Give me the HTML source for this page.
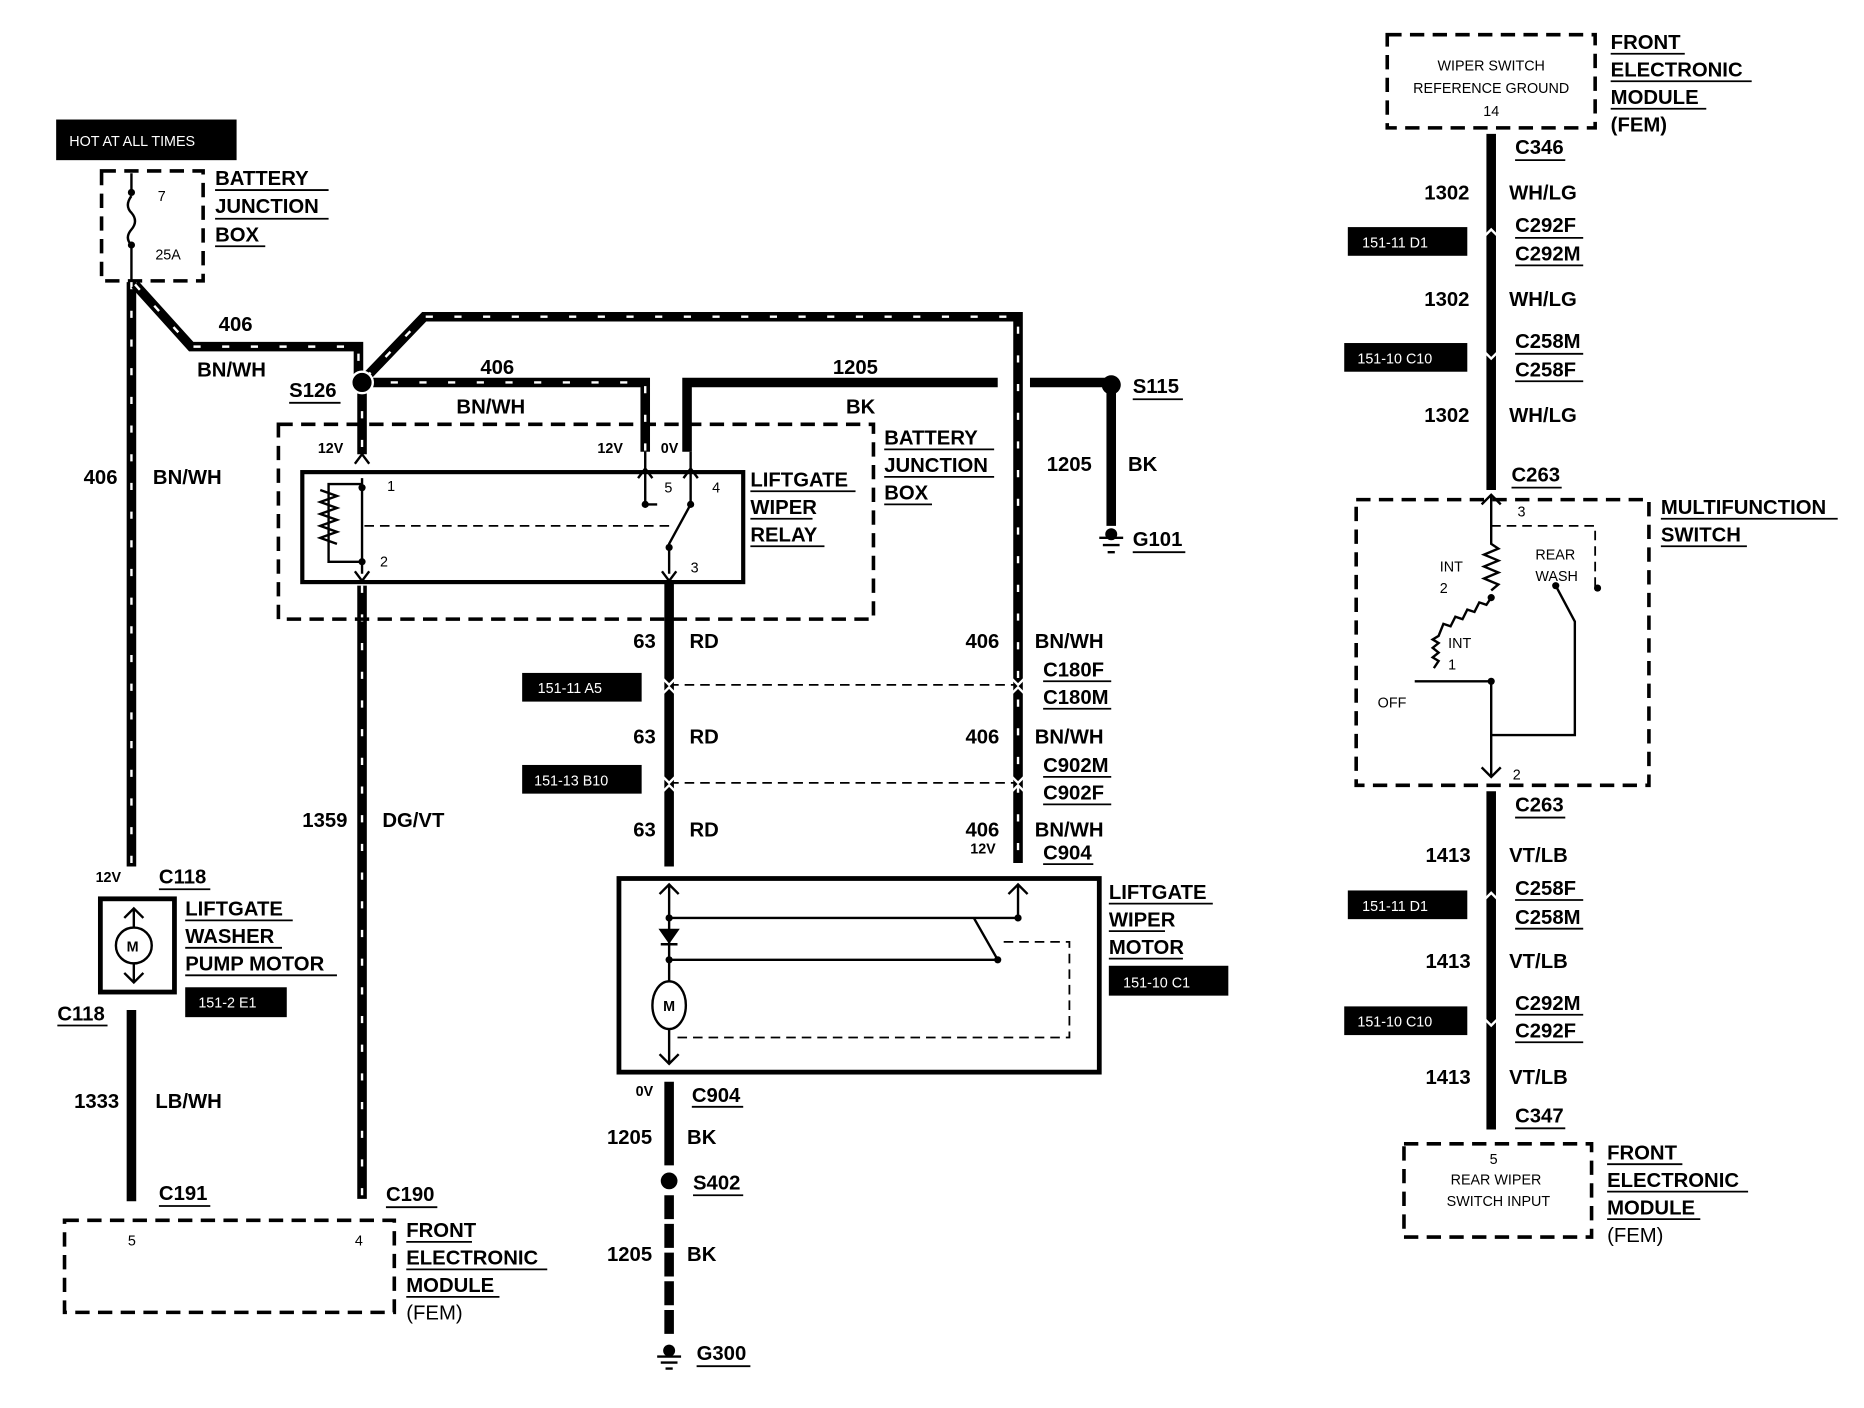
<!DOCTYPE html>
<html><head><meta charset="utf-8"><style>
html,body{margin:0;padding:0;background:#fff;}
svg{display:block}
text{font-family:"Liberation Sans",Arial,sans-serif;font-weight:bold;fill:#000;font-size:17px}
.s{font-size:12px;font-weight:normal}
.t{font-size:12px;font-weight:normal;fill:#fff}
.w{stroke:#000;stroke-width:8;fill:none}
.st{stroke:#fff;stroke-width:2;fill:none;stroke-dasharray:6 18}
.d{stroke:#000;stroke-width:3;fill:none;stroke-dasharray:12 7}
.dt{stroke:#000;stroke-width:1.5;fill:none;stroke-dasharray:8 5}
.l{stroke:#000;stroke-width:2;fill:none}
.u{stroke:#000;stroke-width:1.5}
</style></head><body>
<svg width="1864" height="1408" viewBox="0 0 1560 1178" preserveAspectRatio="none" xmlns="http://www.w3.org/2000/svg">
<!-- HOT box -->
<rect x="47" y="100" width="151" height="34" fill="#000"/>
<text x="58" y="122" class="t">HOT AT ALL TIMES</text>
<rect x="85" y="143" width="85" height="92" class="d"/>
<path d="M110 145 V160 M110 164 q-6 8 0 14 q6 7 0 14 q-6 7 0 13 M110 205 V235" class="l"/>
<circle cx="110" cy="161" r="3"/><circle cx="110" cy="205" r="3"/>
<text x="132" y="168" class="s">7</text><text x="130" y="217" class="s">25A</text>
<text x="180" y="155">BATTERY</text><text x="180" y="178">JUNCTION</text><text x="180" y="202">BOX</text>
<path d="M180 159H275M180 183H275M180 206H222" class="u"/>

<!-- striped wires -->
<g>
<path d="M110 236V725" class="w"/><path d="M110 236V725" class="st"/>
<path d="M113 238L160 290H300V318" class="w"/><path d="M113 238L160 290H300V318" class="st"/>
<path d="M306 316L355 265H852V722" class="w"/><path d="M306 316L355 265H852V722" class="st"/>
<path d="M303 320H540V378" class="w"/><path d="M303 320H540V378" class="st"/>
<path d="M303 320V380" class="w"/><path d="M303 320V380" class="st"/>
<path d="M303 490V1003" class="w"/><path d="M303 490V1003" class="st"/>
</g>
<circle cx="303" cy="320" r="9" fill="#000" stroke="#fff" stroke-width="2"/>
<text x="183" y="277">406</text><text x="165" y="315">BN/WH</text>
<text x="242" y="332">S126</text><path d="M242 337H285" class="u"/>
<text x="402" y="313">406</text><text x="382" y="346">BN/WH</text>
<text x="70" y="405">406</text><text x="128" y="405">BN/WH</text>
<text x="253" y="692">1359</text><text x="320" y="692">DG/VT</text>

<!-- BK wires -->
<path d="M575 378V320H835M862 320H930V440" class="w"/>
<circle cx="930" cy="322" r="8"/>
<text x="697" y="313">1205</text><text x="708" y="346">BK</text>
<text x="948" y="329">S115</text><path d="M948 334H990" class="u"/>
<text x="876" y="394">1205</text><text x="944" y="394">BK</text>
<path d="M920 450H940M923 456H937M927 462H933" class="l"/><circle cx="930" cy="447" r="5"/>
<text x="948" y="457">G101</text><path d="M948 462H992" class="u"/>

<!-- relay area -->
<rect x="233" y="355" width="498" height="163" class="d"/>
<text x="266" y="379" class="s" style="font-weight:bold">12V</text>
<text x="500" y="379" class="s" style="font-weight:bold">12V</text>
<text x="553" y="379" class="s" style="font-weight:bold">0V</text>
<rect x="253" y="395" width="369" height="92" fill="none" stroke="#000" stroke-width="3.5"/>
<path d="M303 400V480M297 388l6 -8 6 8M297 478l6 8 6-8" class="l"/>
<path d="M303 405H275V470H303M268 410 l14 5 -14 5 14 5 -14 5 14 5 -14 5 14 5 -14 5 14 5" class="l"/>
<circle cx="303" cy="408" r="3"/><circle cx="303" cy="470" r="3"/>
<text x="324" y="411" class="s">1</text><text x="318" y="474" class="s">2</text>
<path d="M305 440H560" class="dt"/>
<path d="M540 378V422M578 378V422L560 455V480M534 400l6 -8 6 8M572 400l6-8 6 8M554 478l6 8 6-8M540 422H550" class="l"/>
<circle cx="540" cy="422" r="3"/><circle cx="578" cy="422" r="3"/><circle cx="560" cy="458" r="3"/>
<text x="556" y="412" class="s">5</text><text x="596" y="412" class="s">4</text><text x="578" y="479" class="s">3</text>
<text x="628" y="407">LIFTGATE</text><text x="628" y="430">WIPER</text><text x="628" y="453">RELAY</text>
<path d="M628 411H716M628 434H680M628 457H690" class="u"/>
<text x="740" y="372">BATTERY</text><text x="740" y="395">JUNCTION</text><text x="740" y="418">BOX</text>
<path d="M740 376H832M740 399H832M740 422H780" class="u"/>

<!-- RD wire -->
<path d="M560 487V725" class="w"/>
<path d="M560 573H852M560 655H852" class="dt"/>
<path d="M552 565l8 8 8-8M552 583l8-8 8 8M552 647l8 8 8-8M552 665l8-8 8 8M844 565l8 8 8-8M844 583l8-8 8 8M844 647l8 8 8-8M844 665l8-8 8 8" stroke="#fff" stroke-width="2" fill="none"/>
<rect x="437" y="563" width="100" height="24"/><text x="450" y="580" class="t">151-11 A5</text>
<rect x="437" y="640" width="100" height="24"/><text x="447" y="657" class="t">151-13 B10</text>
<text x="530" y="542">63</text><text x="577" y="542">RD</text>
<text x="530" y="622">63</text><text x="577" y="622">RD</text>
<text x="530" y="700">63</text><text x="577" y="700">RD</text>
<text x="808" y="542">406</text><text x="866" y="542">BN/WH</text>
<text x="873" y="566">C180F</text><text x="873" y="589">C180M</text>
<text x="808" y="622">406</text><text x="866" y="622">BN/WH</text>
<text x="873" y="646">C902M</text><text x="873" y="669">C902F</text>
<text x="808" y="700">406</text><text x="866" y="700">BN/WH</text>
<text x="812" y="714" class="s" style="font-weight:bold">12V</text><text x="873" y="719">C904</text>
<path d="M873 570H930M873 593H930M873 650H930M873 673H930M873 723H915" class="u"/>

<!-- motor -->
<rect x="518" y="735" width="402" height="162" fill="none" stroke="#000" stroke-width="4"/>
<path d="M560 740V890M552 748l8-8 8 8M552 882l8 8 8-8M852 740V768M844 748l8-8 8 8" class="l"/>
<path d="M560 768H815L835 803H560M815 768H852" class="l"/>
<path d="M820 768H852" class="dt"/>
<path d="M553 778H567L560 788ZM553 790H567" fill="#000" stroke="#000" stroke-width="2"/>
<circle cx="560" cy="768" r="3"/><circle cx="560" cy="803" r="3"/><circle cx="852" cy="768" r="3"/><circle cx="835" cy="803" r="3"/>
<ellipse cx="560" cy="841" rx="14" ry="20" fill="#fff" stroke="#000" stroke-width="2"/>
<text x="555" y="846" class="s" style="font-weight:bold">M</text>
<path d="M840 788H895V868H562" class="dt"/>
<text x="928" y="752">LIFTGATE</text><text x="928" y="775">WIPER</text><text x="928" y="798">MOTOR</text>
<path d="M928 756H1015M928 779H975M928 802H990" class="u"/>
<rect x="928" y="808" width="100" height="25"/><text x="940" y="826" class="t">151-10 C1</text>
<text x="532" y="917" class="s" style="font-weight:bold">0V</text><text x="579" y="922">C904</text><path d="M579 926H622" class="u"/>
<path d="M560 905V975" class="w"/>
<text x="508" y="957">1205</text><text x="575" y="957">BK</text>
<circle cx="560" cy="988" r="7"/><text x="580" y="995">S402</text><path d="M580 1000H622" class="u"/>
<path d="M560 1000V1120" class="w" stroke-dasharray="20 4"/>
<text x="508" y="1055">1205</text><text x="575" y="1055">BK</text>
<path d="M550 1135H570M553 1140H567M557 1145H563" class="l"/><circle cx="560" cy="1130" r="5"/>
<text x="583" y="1138">G300</text><path d="M583 1143H628" class="u"/>

<!-- pump -->
<text x="80" y="738" class="s" style="font-weight:bold">12V</text><text x="133" y="739">C118</text><path d="M133 744H176" class="u"/>
<rect x="84" y="752" width="62" height="78" fill="#fff" stroke="#000" stroke-width="4"/>
<path d="M112 760V822M104 768l8-8 8 8M104 814l8 8 8-8" class="l"/>
<circle cx="112" cy="791" r="15" fill="#fff" stroke="#000" stroke-width="2"/>
<text x="106" y="796" class="s" style="font-weight:bold">M</text>
<text x="155" y="766">LIFTGATE</text><text x="155" y="789">WASHER</text><text x="155" y="812">PUMP MOTOR</text>
<path d="M155 770H245M155 793H236M155 816H282" class="u"/>
<rect x="155" y="826" width="85" height="25"/><text x="166" y="843" class="t">151-2 E1</text>
<text x="48" y="854">C118</text><path d="M48 858H90" class="u"/>
<path d="M110 845V1005" class="w"/>
<text x="62" y="927">1333</text><text x="130" y="927">LB/WH</text>
<text x="133" y="1004">C191</text><text x="323" y="1005">C190</text>
<path d="M133 1009H176M323 1010H366" class="u"/>
<rect x="54" y="1021" width="276" height="77" class="d"/>
<text x="107" y="1042" class="s">5</text><text x="297" y="1042" class="s">4</text>
<text x="340" y="1035">FRONT</text><text x="340" y="1058">ELECTRONIC</text><text x="340" y="1081" >MODULE</text><text x="340" y="1104" style="font-weight:normal">(FEM)</text>
<path d="M340 1039H395M340 1062H458M340 1085H418" class="u"/>

<!-- right column -->
<rect x="1161" y="29" width="174" height="78" class="d"/>
<text x="1248" y="59" class="s" text-anchor="middle">WIPER SWITCH</text>
<text x="1248" y="78" class="s" text-anchor="middle">REFERENCE GROUND</text>
<text x="1248" y="97" class="s" text-anchor="middle">14</text>
<text x="1348" y="41">FRONT</text><text x="1348" y="64">ELECTRONIC</text><text x="1348" y="87">MODULE</text><text x="1348" y="110">(FEM)</text>
<path d="M1348 45H1410M1348 68H1466M1348 91H1428" class="u"/>
<path d="M1248 112V410M1248 662V945" class="w"/>
<path d="M1240 200l8-8 8 8M1240 292l8 8 8-8M1240 755l8-8 8 8M1240 850l8 8 8-8" stroke="#fff" stroke-width="2" fill="none"/>
<text x="1268" y="129">C346</text><path d="M1268 134H1310" class="u"/>
<text x="1192" y="167">1302</text><text x="1263" y="167">WH/LG</text>
<text x="1268" y="194">C292F</text><text x="1268" y="218">C292M</text><path d="M1268 199H1325M1268 222H1325" class="u"/>
<rect x="1128" y="190" width="100" height="24"/><text x="1140" y="207" class="t">151-11 D1</text>
<text x="1192" y="256">1302</text><text x="1263" y="256">WH/LG</text>
<text x="1268" y="291">C258M</text><text x="1268" y="315">C258F</text><path d="M1268 296H1325M1268 319H1325" class="u"/>
<rect x="1125" y="287" width="103" height="24"/><text x="1136" y="304" class="t">151-10 C10</text>
<text x="1192" y="353">1302</text><text x="1263" y="353">WH/LG</text>
<text x="1265" y="403">C263</text><path d="M1265 408H1307" class="u"/>
<rect x="1135" y="418" width="245" height="239" class="d"/>
<text x="1390" y="430">MULTIFUNCTION</text><text x="1390" y="453">SWITCH</text>
<path d="M1390 434H1538M1390 457H1462" class="u"/>
<path d="M1248 414V455 l6 4 -12 5 12 5 -12 5 12 5 -12 5 12 5 -6 5 M1248 500 l-4 6 -6 -2 -4 8 -6 -2 -4 8 -6-2 -4 8 -6 -2 -4 10 -5 3 5 3 -5 4 5 4 -5 4 5 3 -4 6 M1184 570 H1248 V615 H1318 V520 L1302 490 M1248 615 V650" class="l"/>
<path d="M1240 422l8-8 8 8M1240 642l8 8 8-8" class="l"/>
<path d="M1248 440H1335V492" class="dt"/>
<circle cx="1302" cy="490" r="3"/><circle cx="1337" cy="492" r="3"/><circle cx="1248" cy="570" r="3"/><circle cx="1248" cy="500" r="3"/>
<text x="1270" y="432" class="s">3</text>
<text x="1205" y="478" class="s">INT</text><text x="1205" y="496" class="s">2</text>
<text x="1285" y="468" class="s">REAR</text><text x="1285" y="486" class="s">WASH</text>
<text x="1212" y="542" class="s">INT</text><text x="1212" y="560" class="s">1</text>
<text x="1153" y="592" class="s">OFF</text>
<text x="1266" y="652" class="s">2</text>
<text x="1268" y="679">C263</text><path d="M1268 684H1310" class="u"/>
<text x="1193" y="721">1413</text><text x="1263" y="721">VT/LB</text>
<text x="1268" y="749">C258F</text><text x="1268" y="773">C258M</text><path d="M1268 753H1325M1268 777H1325" class="u"/>
<rect x="1128" y="745" width="100" height="24"/><text x="1140" y="762" class="t">151-11 D1</text>
<text x="1193" y="810">1413</text><text x="1263" y="810">VT/LB</text>
<text x="1268" y="845">C292M</text><text x="1268" y="868">C292F</text><path d="M1268 849H1325M1268 872H1325" class="u"/>
<rect x="1125" y="842" width="103" height="24"/><text x="1136" y="859" class="t">151-10 C10</text>
<text x="1193" y="907">1413</text><text x="1263" y="907">VT/LB</text>
<text x="1268" y="939">C347</text><path d="M1268 944H1310" class="u"/>
<rect x="1175" y="957" width="157" height="78" class="d"/>
<text x="1250" y="974" class="s" text-anchor="middle">5</text>
<text x="1252" y="991" class="s" text-anchor="middle">REAR WIPER</text>
<text x="1254" y="1009" class="s" text-anchor="middle">SWITCH INPUT</text>
<text x="1345" y="970">FRONT</text><text x="1345" y="993">ELECTRONIC</text><text x="1345" y="1016">MODULE</text><text x="1345" y="1039" style="font-weight:normal">(FEM)</text>
<path d="M1345 974H1408M1345 997H1463M1345 1020H1423" class="u"/>
</svg>
</body></html>
